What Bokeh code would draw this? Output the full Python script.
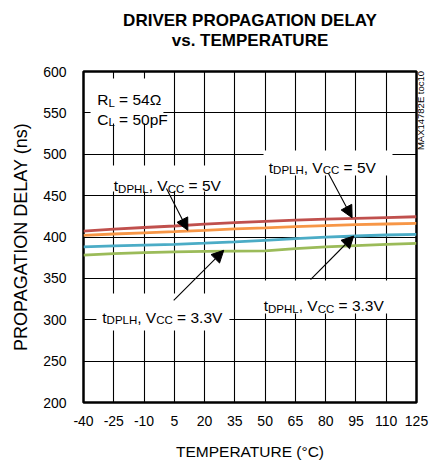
import math
from bokeh.plotting import figure
from bokeh.models import Arrow, NormalHead, Label, Title, FixedTicker, Range1d, LinearAxis
from bokeh.embed import file_html
from bokeh.resources import INLINE

# ---------------- data ----------------
TEMP = [-40, -25, -10, 5, 20, 35, 50, 65, 80, 95, 110, 125]
TPDLH_5V = [407, 409.5, 411.5, 413.3, 415.5, 417.3, 419, 420.5, 421.5, 422.5, 423.5, 424.5]   # red
TPDHL_5V = [402, 403.6, 405, 406.4, 408, 409.7, 411, 412.5, 413.7, 414.9, 415.7, 416.5]      # orange
TPDLH_33V = [388, 389.2, 390.2, 391.2, 392.5, 394, 396, 398, 399.8, 401.2, 402.4, 403.2]     # blue
TPDHL_33V = [378, 380, 381, 382, 382.6, 383, 383.2, 386, 388, 389.5, 391, 392.4]            # green

X_TICKS = [-40, -25, -10, 5, 20, 35, 50, 65, 80, 95, 110, 125]
X_TICK_LABELS = ["-40", "-25", "-10", "5", "20", "35", "50", "65", "80", "95", "110", "125"]
Y_TICKS = [200, 250, 300, 350, 400, 450, 500, 550, 600]

TITLE_1 = "DRIVER PROPAGATION DELAY"
TITLE_2 = "vs. TEMPERATURE"
X_LABEL = "TEMPERATURE (°C)"
Y_LABEL = "PROPAGATION DELAY (ns)"
SIDE_NOTE = "MAX14782E toc10"

FONT = "Liberation Sans"

p = figure(width=435, height=464, output_backend="svg", toolbar_location=None,
           x_range=Range1d(-40, 125), y_range=Range1d(200, 600),
           min_border_left=83, min_border_right=19, min_border_top=71,
           min_border_bottom=62)
p.background_fill_color = "white"
p.border_fill_color = "white"
p.outline_line_color = "black"
p.outline_line_width = 2.5

# title panels, stacked outward from the frame: spacer, line 2, line 1
title_style = dict(align="center", text_font=FONT, text_font_size="17px",
                   text_font_style="bold", text_color="black")
p.add_layout(Title(text="\u00a0", standoff=1, **title_style), "above")
p.add_layout(Title(text=TITLE_2, standoff=0, **title_style), "above")
p.add_layout(Title(text=TITLE_1, standoff=-2, **title_style), "above")

# side note as label of an extra right axis
side = LinearAxis(ticker=FixedTicker(ticks=[505]), major_label_overrides={505: SIDE_NOTE})
p.add_layout(side, "right")

for ax in (p.xaxis[0], p.yaxis[0], side):
    ax.axis_line_color = None
    ax.major_tick_line_color = None
    ax.minor_tick_line_color = None
    ax.major_tick_out = 0
    ax.major_tick_in = 0
    ax.major_label_text_font = FONT
    ax.major_label_text_font_size = "14px"
    ax.major_label_text_color = "black"
    ax.axis_label_text_font = FONT
    ax.axis_label_text_font_style = "normal"
    ax.axis_label_text_color = "black"

side.major_label_text_font_size = "9.5px"
side.major_label_orientation = math.pi / 2
side.major_label_standoff = 4

p.xaxis[0].ticker = FixedTicker(ticks=X_TICKS)
p.xaxis[0].major_label_overrides = dict(zip(X_TICKS, X_TICK_LABELS))
p.yaxis[0].ticker = FixedTicker(ticks=Y_TICKS)
p.xaxis[0].axis_label = X_LABEL
p.yaxis[0].axis_label = Y_LABEL
p.xaxis[0].axis_label_text_font_size = "15.5px"
p.yaxis[0].axis_label_text_font_size = "18px"
p.xaxis[0].major_label_standoff = 13
p.yaxis[0].major_label_standoff = 17
p.xaxis[0].axis_label_standoff = 14
p.yaxis[0].axis_label_standoff = 9

p.xgrid.ticker = FixedTicker(ticks=X_TICKS)
p.ygrid.ticker = FixedTicker(ticks=Y_TICKS)
for g in (p.xgrid[0], p.ygrid[0]):
    g.grid_line_color = "black"
    g.grid_line_width = 1.1

# white backgrounds behind annotation texts (hide grid lines)
boxes = [(-36.5, -0.4, 591.5, 537.2),
         (-27.6, 31.8, 486.4, 455.0),
         (49.2, 113.1, 504.5, 474.3),
         (-33.6, 32.3, 331.7, 286.9),
         (46.7, 112.1, 347.4, 307.6)]
p.quad(left=[b[0] for b in boxes], right=[b[1] for b in boxes],
       top=[b[2] for b in boxes], bottom=[b[3] for b in boxes],
       fill_color="white", line_color=None)

# series
LW = 2.8
p.line(TEMP, TPDLH_5V, line_color="#C0504D", line_width=LW)
p.line(TEMP, TPDHL_5V, line_color="#F79646", line_width=LW)
p.line(TEMP, TPDLH_33V, line_color="#4BACC6", line_width=LW)
p.line(TEMP, TPDHL_33V, line_color="#9BBB59", line_width=LW)

# rich text helper (Arial / Liberation Sans advance widths per 1000 em)
W = {"t": 278, "D": 722, "P": 667, "H": 722, "L": 556, ",": 278, " ": 278, "\u00a0": 278,
     "V": 667, "C": 722, "=": 584, "5": 556, "3": 556, ".": 278, "R": 722, "Ω": 768,
     "4": 556, "p": 556, "F": 611, "0": 556}
MAIN = 15.5
SUB = 11.5
SUB_DY = 3.0 / 0.8275


def rich(x, y, parts):
    off = 0.0
    for txt, sub in parts:
        size = SUB if sub else MAIN
        txt = txt.replace(" ", "\u00a0")
        p.add_layout(Label(x=x, y=(y - SUB_DY) if sub else y, x_offset=off, text=txt,
                           text_font=FONT, text_font_size=f"{size}px",
                           text_color="black", text_align="left",
                           text_baseline="alphabetic"))
        off += sum(W.get(c, 556) for c in txt) * size / 1000.0


rich(-33.2, 565.8, [("R", False), ("L", True), (" = 54Ω", False)])
rich(-33.2, 542.3, [("C", False), ("L", True), (" = 50pF", False)])
rich(-25.0, 461.9, [("t", False), ("DPHL", True), (", V", False), ("CC", True), (" = 5V", False)])
rich(51.8, 484.4, [("t", False), ("DPLH", True), (", V", False), ("CC", True), (" = 5V", False)])
rich(-30.7, 303.1, [("t", False), ("DPLH", True), (", V", False), ("CC", True), (" = 3.3V", False)])
rich(49.3, 317.2, [("t", False), ("DPHL", True), (", V", False), ("CC", True), (" = 3.3V", False)])

# arrows
arrows = [(1.1, 458.6, 11.7, 408.1),
          (81.4, 476.7, 93.1, 423.3),
          (4.7, 323.3, 29.5, 383.9),
          (72.5, 348.6, 93.9, 401.2)]
for xs, ys, xe, ye in arrows:
    p.add_layout(Arrow(end=NormalHead(size=12, fill_color="black", line_color="black",
                                      line_width=1),
                       x_start=xs, y_start=ys, x_end=xe, y_end=ye,
                       line_color="black", line_width=1.1))

open("out.html", "w").write(file_html(p, INLINE))
